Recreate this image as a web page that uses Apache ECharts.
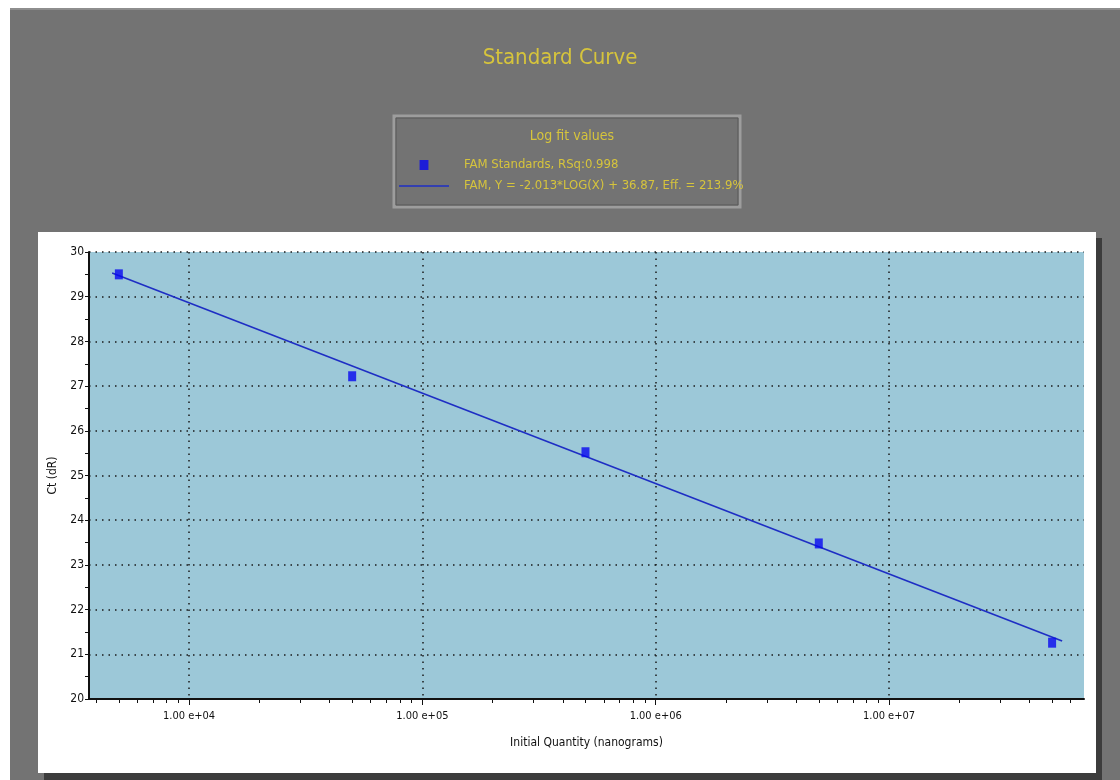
<!DOCTYPE html>
<html>
<head>
<meta charset="utf-8">
<script src="https://cdn.jsdelivr.net/npm/echarts@6/dist/echarts.min.js"></script>
<style>
  html, body { margin: 0; padding: 0; background: #ffffff; }
  #chart { width: 1120px; height: 780px; }
</style>
</head>
<body>
<div id="chart"></div>
<script>
// ---- data ----
const quantities = [5000, 50000, 500000, 5000000, 50000000];
const ctValues = [29.5, 27.22, 25.52, 23.48, 21.26];
const fitQuantities = [4680, 55200000];
const fitCt = [29.53, 21.30];
const decadeTicks = [10000, 100000, 1000000, 10000000];
const decadeLabels = ['1.00 e+04', '1.00 e+05', '1.00 e+06', '1.00 e+07'];
const minorTickValues = [
  4000, 5000, 6000, 7000, 8000, 9000,
  20000, 30000, 40000, 50000, 60000, 70000, 80000, 90000,
  200000, 300000, 400000, 500000, 600000, 700000, 800000, 900000,
  2000000, 3000000, 4000000, 5000000, 6000000, 7000000, 8000000, 9000000,
  20000000, 30000000, 40000000, 50000000, 60000000
];
const xMinQ = 3724;
const xMaxQ = 68500000;
const seriesNames = ['FAM Standards, RSq:0.998', 'FAM, Y = -2.013*LOG(X) + 36.87, Eff. = 213.9%'];

const NARROW = '"Liberation Sans Narrow", "DejaVu Sans Condensed", "Liberation Sans", sans-serif';
const lg = v => Math.log10(v);
const xMin = lg(xMinQ), xMax = lg(xMaxQ);
const decadeLog = decadeTicks.map(lg);

const chart = echarts.init(document.getElementById('chart'), null, { renderer: 'canvas' });
chart.setOption({
  animation: false,
  textStyle: { fontFamily: NARROW },
  graphic: [
    { type: 'rect', z: -100, shape: { x: 10, y: 8, width: 1110, height: 772 }, style: { fill: '#737373' } },
    { type: 'rect', z: -99, shape: { x: 10, y: 8, width: 1110, height: 2 }, style: { fill: '#8e8e8e' } },
    { type: 'rect', z: -98, shape: { x: 44, y: 238, width: 1058, height: 542 }, style: { fill: '#3c3c3c' } },
    { type: 'rect', z: -97, shape: { x: 38, y: 232, width: 1058, height: 541 }, style: { fill: '#ffffff' } },
    { type: 'rect', z: -96, shape: { x: 394, y: 116, width: 346, height: 91 }, style: { fill: '#737373', stroke: '#9d9d9d', lineWidth: 3 } },
    { type: 'rect', z: -95, shape: { x: 396, y: 118, width: 342, height: 87 }, style: { fill: 'none', stroke: '#595959', lineWidth: 1 } }
  ],
  title: [
    { text: 'Standard Curve', left: 'center', top: 42,
      textStyle: { color: '#d6c43c', fontSize: 22, fontWeight: 'normal', fontFamily: NARROW } },
    { text: 'Log fit values', left: 567, top: 124, textAlign: 'center',
      textStyle: { color: '#d6c43c', fontSize: 14, fontWeight: 'normal', fontFamily: NARROW } }
  ],
  legend: {
    orient: 'vertical', left: 394, top: 152,
    itemWidth: 50, itemHeight: 10, itemGap: 5, symbolKeepAspect: true,
    textStyle: { color: '#d6c43c', fontSize: 13, lineHeight: 16, fontFamily: NARROW, padding: [0, 0, 0, 10] },
    data: [
      { name: seriesNames[0], icon: 'path://M0,0H8V9H0Z' },
      { name: seriesNames[1], icon: 'path://M0,0H50V1.4H0Z' }
    ]
  },
  grid: { left: 89, right: 36, top: 252, bottom: 81, show: true, backgroundColor: '#9cc8d8', borderWidth: 0 },
  xAxis: [
    {
      type: 'value', min: xMin, max: xMax, position: 'bottom',
      name: 'Initial Quantity (nanograms)', nameLocation: 'middle', nameGap: 38,
      nameTextStyle: { color: '#111', fontSize: 12, fontFamily: NARROW },
      axisLine: { show: true, lineStyle: { color: '#111', width: 2 } },
      axisTick: { show: true, customValues: decadeLog, length: 6, lineStyle: { color: '#111', width: 1 } },
      axisLabel: {
        customValues: decadeLog, margin: 12, color: '#111', fontSize: 11, fontFamily: NARROW,
        formatter: v => { const i = decadeLog.findIndex(d => Math.abs(d - v) < 1e-6); return i >= 0 ? decadeLabels[i] : ''; }
      },
      splitLine: { show: true, lineStyle: { color: '#1a1a1a', width: 1.5, type: [1.5, 5] } }
    },
    {
      type: 'value', min: xMin, max: xMax, position: 'bottom', gridIndex: 0,
      axisLine: { show: false },
      axisTick: { show: true, customValues: minorTickValues.map(lg), length: 4, lineStyle: { color: '#111', width: 1 } },
      axisLabel: { show: false },
      splitLine: { show: false }
    }
  ],
  yAxis: {
    type: 'value', min: 20, max: 30, interval: 1,
    name: 'Ct (dR)', nameLocation: 'middle', nameGap: 22, nameRotate: 90,
    nameTextStyle: { color: '#111', fontSize: 12, fontFamily: NARROW },
    axisLine: { show: true, lineStyle: { color: '#111', width: 2 } },
    axisTick: { show: true, length: 4, lineStyle: { color: '#111' } },
    minorTick: { show: true, splitNumber: 2, length: 4, lineStyle: { color: '#111' } },
    axisLabel: { color: '#111', fontSize: 12, margin: 5, fontFamily: NARROW },
    splitLine: { show: true, lineStyle: { color: '#1a1a1a', width: 1.5, type: [1.5, 5] } }
  },
  series: [
    {
      name: seriesNames[0], type: 'scatter', xAxisIndex: 0,
      symbol: 'rect', symbolSize: [8, 10], z: 5,
      itemStyle: { color: '#0808f0' },
      data: quantities.map((q, i) => [lg(q), ctValues[i]])
    },
    {
      name: seriesNames[1], type: 'line', xAxisIndex: 0,
      symbol: 'none', z: 4,
      lineStyle: { color: '#1e2ec4', width: 1.6 },
      itemStyle: { color: '#1e2ec4' },
      data: fitQuantities.map((q, i) => [lg(q), fitCt[i]])
    }
  ]
});
</script>
</body>
</html>
